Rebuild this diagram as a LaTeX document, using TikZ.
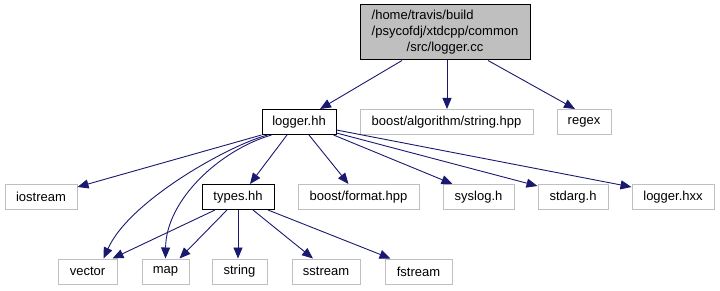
\documentclass[tikz,border=0pt]{standalone}
\usepackage{fontspec}
\setmainfont{Liberation Sans}
\usepackage{tikz}
\usetikzlibrary{arrows.meta}

\definecolor{edgeblue}{HTML}{191970}
\definecolor{boxgray}{HTML}{BFBFBF}

\begin{document}
\begin{tikzpicture}[x=1pt, y=-1pt,
    file/.style={draw=boxgray, line width=1pt, inner sep=0pt, minimum height=25pt,
      font=\fontsize{13}{16}\selectfont},
    local/.style={file, draw=black},
    dep/.style={-{Triangle[length=11pt,width=9pt]}, edgeblue, line width=0.9pt}]
    \useasboundingbox (0,0) rectangle (720,291);

    % Source file
    \node[local, fill=boxgray, minimum width=170pt, minimum height=55pt, align=center]
      (root) at (445,32.5)
      {\rlap{/home/travis/build}\phantom{/psycofdj/xtdcpp/common}\\
       /psycofdj/xtdcpp/common\\/src/logger.cc};

    % Direct includes
    \node[local, minimum width=74pt] (loggerhh) at (299,122) {logger.hh};
    \node[file, minimum width=173pt] (algo) at (446.5,122) {boost/algorithm/string.hpp};
    \node[file, minimum width=54pt] (regex) at (584,122) {regex};

    % Included by logger.hh
    \node[file, minimum width=72pt] (iostream) at (41,197) {iostream};
    \node[local, minimum width=72pt] (typeshh) at (238,197) {types.hh};
    \node[file, minimum width=121pt] (format) at (358.5,197) {boost/format.hpp};
    \node[file, minimum width=71pt] (syslog) at (478.5,197) {syslog.h};
    \node[file, minimum width=70pt] (stdarg) at (573,197) {stdarg.h};
    \node[file, minimum width=82pt] (loggerhxx) at (673,197) {logger.hxx};

    % Included by types.hh
    \node[file, minimum width=59pt] (vector) at (87.5,271.5) {vector};
    \node[file, minimum width=47pt] (map) at (165.5,271.5) {map};
    \node[file, minimum width=55pt] (string) at (239.5,271.5) {string};
    \node[file, minimum width=68pt] (sstream) at (326,271.5) {sstream};
    \node[file, minimum width=67pt] (fstream) at (418.5,271.5) {fstream};

    % Edges from the source file
    \draw[dep] ([xshift=-43pt]root.south) -- ([xshift=21pt]loggerhh.north);
    \draw[dep] ([xshift=2pt]root.south) -- ([xshift=0.5pt]algo.north);
    \draw[dep] ([xshift=43pt]root.south) -- ([xshift=-9pt]regex.north);

    % Edges from logger.hh
    \draw[dep] (loggerhh.south west) -- ([yshift=-3pt]iostream.north east);
    \draw[dep] ([xshift=6pt]loggerhh.south west) .. controls (230,145) and (130,200) .. ([xshift=16pt]vector.north);
    \draw[dep] ([xshift=10pt]loggerhh.south west) .. controls (220,150) and (166,200) .. (map.north);
    \draw[dep] ([xshift=-12pt]loggerhh.south) -- ([xshift=12pt]typeshh.north);
    \draw[dep] ([xshift=10pt]loggerhh.south) -- ([xshift=-10pt]format.north);
    \draw[dep] ([xshift=-3pt]loggerhh.south east) -- ([xshift=-26pt]syslog.north);
    \draw[dep] ([yshift=2pt]loggerhh.south east) -- ([yshift=-2pt]stdarg.north west);
    \draw[dep] ([yshift=5pt]loggerhh.south east) -- ([yshift=-3pt]loggerhxx.north west);

    % Edges from types.hh
    \draw[dep] ([xshift=-23pt]typeshh.south) -- ([xshift=25pt]vector.north);
    \draw[dep] ([xshift=-11pt]typeshh.south) -- ([xshift=14pt]map.north);
    \draw[dep] (typeshh.south) -- ([xshift=-1.5pt]string.north);
    \draw[dep] ([xshift=15pt]typeshh.south) -- ([xshift=-13pt]sstream.north);
    \draw[dep] ([xshift=30pt]typeshh.south) -- ([xshift=-28pt]fstream.north);
\end{tikzpicture}
\end{document}
